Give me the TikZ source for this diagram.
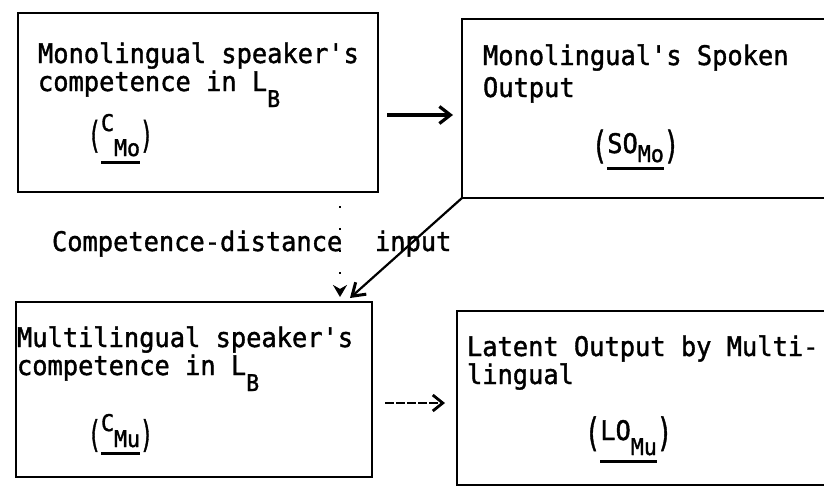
\documentclass[tikz,border=0pt]{standalone}
\usepackage{fontspec}
\usepackage{graphicx}
\setmonofont{DejaVu Sans Mono}[FakeStretch=0.94, FakeBold=1.4]
\usetikzlibrary{arrows.meta}

% typewriter sizes
\newcommand\mainf{\ttfamily\fontsize{27}{27}\selectfont}
\newcommand\subf{\ttfamily\fontsize{23}{23}\selectfont}

% thick underline below a whole group
\newcommand\ulwrap[1]{\setbox0=\hbox{#1}%
  \rlap{\rule[\dimexpr0pt-\dp0-7.4pt\relax]{\wd0}{3pt}}\box0}
% stretched parentheses: #1 vertical scale, #2 drop
\newcommand\lpar[2]{\raisebox{-#2}{\scalebox{1}[#1]{(}}}
\newcommand\rpar[2]{\raisebox{-#2}{\scalebox{1}[#1]{)}}}

\tikzset{
  box/.style={draw, line width=2.8pt, inner sep=0pt, outer sep=0pt},
  txt/.style={inner sep=0pt, outer sep=0pt, anchor=base west, font=\mainf},
  arr/.style={line width=3.2pt, -{Straight Barb[length=11pt,width=17pt]}},
  thinarr/.style={line width=2.2pt, -{Straight Barb[length=12pt,width=16pt,line width=3pt]}},
  dasharr/.style={line width=2.4pt, dash pattern=on 9pt off 2pt, -{Straight Barb[length=10pt,width=16pt,line width=2.8pt]}},
  dotarr/.style={line width=2pt, dash pattern=on 2pt off 20pt, -{Stealth[length=12pt,width=14pt]}}
}

\begin{document}
\begin{tikzpicture}[x=1pt,y=-1pt]
\useasboundingbox (0,0) rectangle (824,488);
\clip (0,0) rectangle (824,488);
\fill[white] (0,0) rectangle (824,488);

% the four boxes
\node[box, minimum width=360pt, minimum height=179pt] (mono)   at (198,102.5) {};
\node[box, minimum width=438pt, minimum height=179pt] (spoken) at (681,108.5) {};
\node[box, minimum width=356pt, minimum height=175pt] (multi)  at (194,389.5) {};
\node[box, minimum width=443pt, minimum height=174pt] (latent) at (678.5,398) {};

% monolingual competence
\node[txt] (mono1) at (38,63) {Monolingual speaker's};
\node[txt] (mono2) at (38,91) {competence in L\raisebox{-16pt}{\subf B}};
\node[txt, font=\subf] (monoSym) at (88,131)
  {\lpar{1.6}{16.7pt}\ulwrap{C\raisebox{-25pt}{Mo}}\rpar{1.6}{16.7pt}};

% monolingual spoken output
\node[txt] (spoken1) at (483,65) {Monolingual's Spoken};
\node[txt] (spoken2) at (483,97) {Output};
\node[txt] (spokenSym) at (592,153)
  {\lpar{1.4}{5.4pt}\ulwrap{SO\raisebox{-9pt}{\subf Mo}}\rpar{1.4}{5.4pt}};

% multilingual competence
\node[txt] (multi1) at (17,347) {Multilingual speaker's};
\node[txt] (multi2) at (17,375) {competence in L\raisebox{-16pt}{\subf B}};
\node[txt, font=\subf] (multiSym) at (88,431)
  {\lpar{1.6}{16pt}\ulwrap{C\raisebox{-16pt}{Mu}}\rpar{1.6}{16pt}};

% latent output
\node[txt] (latent1) at (467,356) {Latent Output by Multi-};
\node[txt] (latent2) at (467,384) {lingual};
\node[txt] (latentSym) at (585,440)
  {\lpar{1.45}{6pt}\ulwrap{LO\raisebox{-15pt}{\subf Mu}}\rpar{1.45}{6pt}};

% labels between the rows
\node[txt] (cd) at (52,251) {Competence-distance};
\node[txt] (inp) at (375,251) {input};

% connectors
\coordinate (cdTip) at (340,297);
\coordinate (inTip) at (350,298);
\draw[arr, shorten <=9pt, shorten >=9pt] (mono.east |- 0,115) -- (spoken.west |- 0,115);
\draw[dasharr, shorten <=13pt, shorten >=12pt] (multi.east |- 0,403) -- (latent.west |- 0,403);
\draw[thinarr] (spoken.south west) -- (inTip);
\draw[dotarr, shorten <=14pt] (mono.south -| cdTip) -- (cdTip);
\end{tikzpicture}
\end{document}
